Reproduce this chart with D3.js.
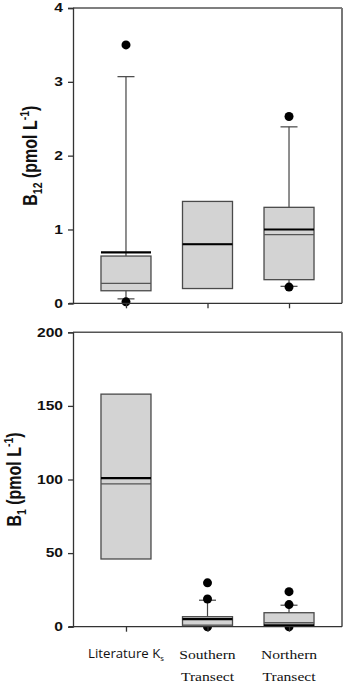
<!DOCTYPE html>
<html>
<head>
<meta charset="utf-8">
<script src="https://cdn.jsdelivr.net/npm/d3@7"></script>
<style>
  body { margin: 0; background: #fff; }
  svg { display: block; }
</style>
</head>
<body>
<div id="chart"></div>
<script>
// categories and box statistics
const categories = ["Literature Ks", "Southern Transect", "Northern Transect"];

// B12 panel (pmol L-1)
const b12Q1 = [0.17, 0.20, 0.32];
const b12Median = [0.27, 0.80, 0.93];
const b12Q3 = [0.64, 1.38, 1.30];
const b12Mean = [0.69, 0.80, 1.00];
const b12WhiskerLow = [0.06, null, 0.23];
const b12WhiskerHigh = [3.07, null, 2.39];
const b12Outliers = [[3.5, 0.02], [], [2.53, 0.22]];
const b12Ticks = [0, 1, 2, 3, 4];

// B1 panel (pmol L-1)
const b1Q1 = [46, 0.3, 0.6];
const b1Median = [97, 1.1, 2.7];
const b1Q3 = [158, 6.8, 9.5];
const b1Mean = [101, 5.2, 1.0];
const b1WhiskerLow = [null, null, null];
const b1WhiskerHigh = [null, 18, 14.6];
const b1Outliers = [[], [29.8, 18.8, 0], [23.8, 15.0, 0]];
const b1Ticks = [0, 50, 100, 150, 200];

const W = 347, H = 685;
const left = 73, right = 342;
const stretch = 1.25; // the figure is drawn a bit wide

const svg = d3.select("#chart").append("svg")
    .attr("width", W)
    .attr("height", H);

const x = d3.scalePoint()
    .domain(categories)
    .range([left, right])
    .padding(0.65);

const boxW = 50, capW = 17;

function panel(opts) {
    const y = d3.scaleLinear().domain(opts.domain).range([opts.bottom, opts.top]);
    const g = svg.append("g");

    const rows = categories.map((c, i) => ({
        cat: c, q1: opts.q1[i], med: opts.median[i], q3: opts.q3[i], mean: opts.mean[i],
        lo: opts.wLow[i], hi: opts.wHigh[i], out: opts.outliers[i]
    }));

    // whiskers
    rows.forEach(d => {
        const cx = x(d.cat);
        if (d.hi != null) {
            g.append("line").attr("x1", cx).attr("x2", cx)
                .attr("y1", y(d.q3)).attr("y2", y(d.hi))
                .attr("stroke", "#444").attr("stroke-width", 1.2);
            g.append("line").attr("x1", cx - capW / 2).attr("x2", cx + capW / 2)
                .attr("y1", y(d.hi)).attr("y2", y(d.hi))
                .attr("stroke", "#444").attr("stroke-width", 1.2);
        }
        if (d.lo != null) {
            g.append("line").attr("x1", cx).attr("x2", cx)
                .attr("y1", y(d.q1)).attr("y2", y(d.lo))
                .attr("stroke", "#444").attr("stroke-width", 1.2);
            g.append("line").attr("x1", cx - capW / 2).attr("x2", cx + capW / 2)
                .attr("y1", y(d.lo)).attr("y2", y(d.lo))
                .attr("stroke", "#444").attr("stroke-width", 1.2);
        }
    });

    // outliers (drawn under the boxes)
    rows.forEach(d => {
        g.selectAll(null).data(d.out).enter().append("circle")
            .attr("cx", x(d.cat))
            .attr("cy", v => y(v))
            .attr("r", 4.5)
            .attr("fill", "#000");
    });

    // boxes
    g.selectAll("rect.box").data(rows).enter().append("rect")
        .attr("class", "box")
        .attr("x", d => x(d.cat) - boxW / 2)
        .attr("y", d => y(d.q3))
        .attr("width", boxW)
        .attr("height", d => y(d.q1) - y(d.q3))
        .attr("fill", "#d3d3d3")
        .attr("stroke", "#4a4a4a")
        .attr("stroke-width", 1.3);

    // median (thin) and mean (thick)
    g.selectAll("line.med").data(rows).enter().append("line")
        .attr("x1", d => x(d.cat) - boxW / 2).attr("x2", d => x(d.cat) + boxW / 2)
        .attr("y1", d => y(d.med)).attr("y2", d => y(d.med))
        .attr("stroke", "#555").attr("stroke-width", 1.3);
    g.selectAll("line.mean").data(rows).enter().append("line")
        .attr("x1", d => x(d.cat) - boxW / 2).attr("x2", d => x(d.cat) + boxW / 2)
        .attr("y1", d => y(d.mean)).attr("y2", d => y(d.mean))
        .attr("stroke", "#000").attr("stroke-width", 2.2);

    // frame: top and right
    g.append("line").attr("x1", left).attr("x2", right)
        .attr("y1", opts.top).attr("y2", opts.top)
        .attr("stroke", "#555").attr("stroke-width", 1.5);
    g.append("line").attr("x1", right).attr("x2", right)
        .attr("y1", opts.top).attr("y2", opts.bottom)
        .attr("stroke", "#777").attr("stroke-width", 2);

    // left axis
    const ya = g.append("g")
        .attr("transform", `translate(${left},0)`)
        .call(d3.axisLeft(y).tickValues(opts.ticks).tickSize(5).tickFormat(""));
    ya.selectAll("path, line").attr("stroke", "#333").attr("stroke-width", 1.3);

    g.selectAll("text.tick").data(opts.ticks).enter().append("text")
        .attr("transform", v => `translate(63,${y(v) + 4.3}) scale(${stretch},1)`)
        .attr("text-anchor", "end")
        .style("font-family", "'Liberation Sans', Arial, sans-serif")
        .style("font-weight", "bold")
        .style("font-size", "12.5px")
        .attr("fill", "#111")
        .text(v => v);

    // bottom axis
    const xa = g.append("g")
        .attr("transform", `translate(0,${opts.bottom})`)
        .call(d3.axisBottom(x).tickSize(5).tickSizeOuter(0).tickFormat(""));
    xa.select("path").attr("d", `M${left - 4},0H${right}`);
    xa.selectAll("path, line").attr("stroke", "#333").attr("stroke-width", 1.3);

    // y title, centred by measuring its length
    const title = g.append("text")
        .attr("transform", `translate(${opts.titleX},${(opts.top + opts.bottom) / 2}) scale(1.3,1) rotate(-90)`)
        .attr("text-anchor", "start")
        .style("font-family", "'Liberation Sans', Arial, sans-serif")
        .style("font-weight", "bold")
        .style("font-size", "16px")
        .attr("fill", "#111");
    title.append("tspan").text("B");
    title.append("tspan").attr("dy", 4).style("font-size", "10.5px").text(opts.sub);
    title.append("tspan").attr("dy", -4).text(" (pmol L");
    title.append("tspan").attr("dy", -6).style("font-size", "10.5px").text("-1");
    title.append("tspan").attr("dy", 6).text(")");
    const len = title.node().getBBox().width;
    title.attr("x", -len / 2);

    return y;
}

panel({
    domain: [0, 4], top: 8, bottom: 303.3, ticks: b12Ticks,
    q1: b12Q1, median: b12Median, q3: b12Q3, mean: b12Mean,
    wLow: b12WhiskerLow, wHigh: b12WhiskerHigh, outliers: b12Outliers,
    sub: "12", titleX: 37
});

panel({
    domain: [0, 200], top: 332.3, bottom: 626.7, ticks: b1Ticks,
    q1: b1Q1, median: b1Median, q3: b1Q3, mean: b1Mean,
    wLow: b1WhiskerLow, wHigh: b1WhiskerHigh, outliers: b1Outliers,
    sub: "1", titleX: 21
});

// category labels under the lower panel
const lit = svg.append("text")
    .attr("transform", `translate(${x(categories[0])},658) scale(1.1,1)`)
    .attr("text-anchor", "middle")
    .style("font-family", "'Open Sans', 'Liberation Sans', sans-serif")
    .style("font-size", "12px")
    .attr("fill", "#111");
lit.append("tspan").text("Literature K");
lit.append("tspan").attr("dy", 3).style("font-size", "7px").text("s");

[categories[1], categories[2]].forEach(c => {
    const words = c.split(" ");
    words.forEach((w, i) => {
        svg.append("text")
            .attr("transform", `translate(${x(c)},${659 + i * 22}) scale(1.2,1)`)
            .attr("text-anchor", "middle")
            .style("font-family", "'Liberation Serif', 'Times New Roman', serif")
            .style("font-size", "13px")
            .attr("fill", "#111")
            .text(w);
    });
});
</script>
</body>
</html>
